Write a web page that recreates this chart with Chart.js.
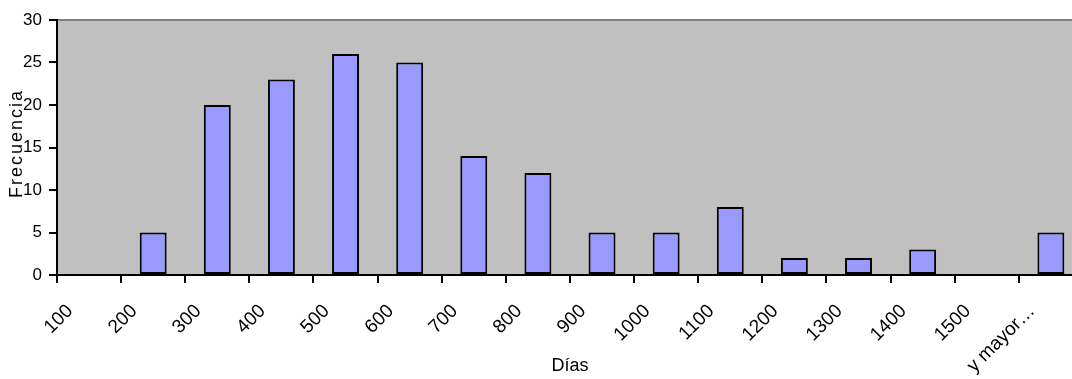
<!DOCTYPE html>
<html>
<head>
<meta charset="utf-8">
<script src="https://cdn.jsdelivr.net/npm/chart.js@4/dist/chart.umd.min.js"></script>
<style>
  html, body { margin: 0; padding: 0; background: #ffffff; overflow: hidden; }
  #wrap { width: 1072px; height: 379px; overflow: hidden; }
  canvas { display: block; }
</style>
</head>
<body>
<div id="wrap"><canvas id="chart" width="1084" height="379"></canvas></div>
<script>
// Histogram of days: bin labels and frequency per bin
const categories = ['100', '200', '300', '400', '500', '600', '700', '800', '900', '1000', '1100', '1200', '1300', '1400', '1500', 'y mayor…'];
const frecuencia = [0, 5, 20, 23, 26, 25, 14, 12, 5, 5, 8, 2, 2, 3, 0, 5];
const yTicks = [0, 5, 10, 15, 20, 25, 30];
const yTitle = 'Frecuencia';

const FONT = 'Liberation Sans, Arial, sans-serif';

// Grey plot background with a darker line along its top edge
const plotBackground = {
  id: 'plotBackground',
  beforeDraw(chart) {
    const { ctx, chartArea: a } = chart;
    ctx.save();
    ctx.fillStyle = '#C0C0C0';
    ctx.fillRect(a.left, a.top, a.right - a.left, a.bottom - a.top);
    ctx.strokeStyle = '#808080';
    ctx.lineWidth = 2;
    ctx.beginPath();
    ctx.moveTo(a.left, a.top);
    ctx.lineTo(a.right, a.top);
    ctx.stroke();
    ctx.restore();
  }
};

// Vertical axis title, loosely letter-spaced and sitting over the tick labels
const yAxisTitle = {
  id: 'yAxisTitle',
  afterDraw(chart) {
    const { ctx, chartArea: a } = chart;
    ctx.save();
    ctx.translate(17, (a.top + a.bottom) / 2 - 4);
    ctx.rotate(-Math.PI / 2);
    ctx.font = '18px ' + FONT;
    if ('letterSpacing' in ctx) ctx.letterSpacing = '2px';
    ctx.fillStyle = '#000000';
    ctx.textAlign = 'center';
    ctx.textBaseline = 'middle';
    ctx.fillText(yTitle, 0, 0);
    ctx.restore();
  }
};

new Chart(document.getElementById('chart'), {
  type: 'bar',
  data: {
    labels: categories,
    datasets: [{
      label: yTitle,
      data: frecuencia,
      backgroundColor: '#9999FF',
      borderColor: '#000000',
      borderWidth: 2,
      borderSkipped: false,
      barPercentage: 0.42,
      categoryPercentage: 1.0
    }]
  },
  options: {
    responsive: false,
    animation: false,
    devicePixelRatio: 1,
    layout: { padding: { left: 1, right: 0, top: 20, bottom: 0 } },
    plugins: {
      legend: { display: false },
      tooltip: { enabled: false }
    },
    scales: {
      x: {
        offset: true,
        grid: {
          offset: true,
          drawOnChartArea: false,
          drawTicks: true,
          tickLength: 8,
          color: '#000000',
          lineWidth: 2
        },
        border: { display: true, color: '#000000', width: 2 },
        ticks: {
          autoSkip: false,
          minRotation: 45,
          maxRotation: 45,
          labelOffset: -19,
          padding: 17,
          color: '#000000',
          font: { family: FONT, size: 19 }
        },
        title: {
          display: true,
          text: 'Días',
          color: '#000000',
          font: { family: FONT, size: 18 },
          padding: { top: 0, bottom: 2 }
        },
        afterFit(scale) { scale.height = 104; }
      },
      y: {
        min: 0,
        max: 30,
        afterBuildTicks(scale) { scale.ticks = yTicks.map(v => ({ value: v })); },
        afterFit(scale) { scale.width = 56; },
        grid: {
          drawOnChartArea: false,
          drawTicks: true,
          tickLength: 8,
          color: '#000000',
          lineWidth: 2
        },
        border: { display: true, color: '#000000', width: 2 },
        ticks: {
          padding: 7,
          color: '#000000',
          font: { family: FONT, size: 17 }
        },
        title: { display: false }
      }
    }
  },
  plugins: [plotBackground, yAxisTitle]
});
</script>
</body>
</html>
